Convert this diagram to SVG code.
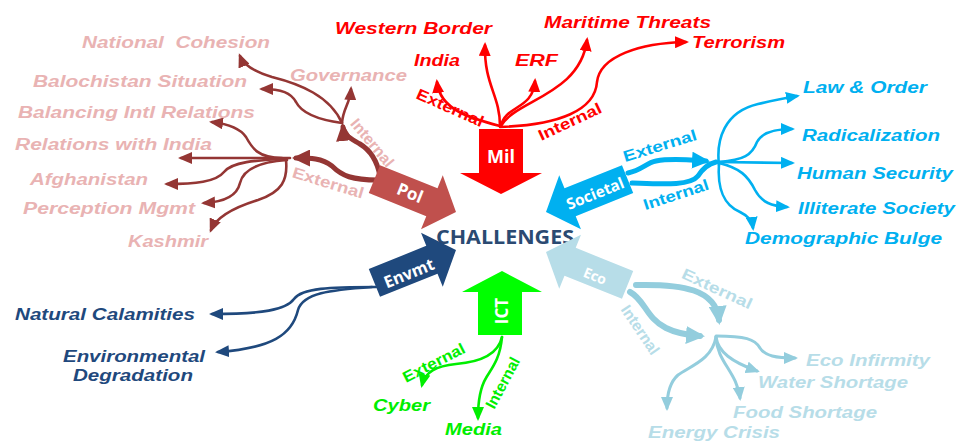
<svg xmlns="http://www.w3.org/2000/svg" width="958" height="441" viewBox="0 0 958 441">
<style>
.lbl{font-family:"Liberation Sans",Arial,sans-serif;font-weight:bold;font-style:italic;font-size:16px}
.sub{font-family:"Liberation Sans",Arial,sans-serif;font-weight:bold;font-size:15.5px;text-anchor:middle}
.in{font-family:"Open Sans","Liberation Sans",sans-serif;font-weight:bold;fill:#fff;text-anchor:middle}
.ln{fill:none;stroke-linecap:round}
.red{fill:#FF0000}.redS{stroke:#FF0000;stroke-width:2.6}
.pink{fill:#E9B3B3}.polS{stroke:#943634;stroke-width:2.6}.polT{stroke:#943634;stroke-width:5}
.sky{fill:#00B0F0}.skyS{stroke:#00B0F0;stroke-width:2.6}.skyT{stroke:#00B0F0;stroke-width:5}
.nav{fill:#1F497D}.navS{stroke:#1F497D;stroke-width:2.6}
.grn{fill:#00EE00}.grnS{stroke:#00EE00;stroke-width:2.6}
.eco{fill:#B7DDE8}.ecoS{stroke:#93CDDD;stroke-width:3}.ecoT{stroke:#93CDDD;stroke-width:6}
</style>
<defs>
<marker id="mRed" markerUnits="userSpaceOnUse" markerWidth="14" markerHeight="12" refX="11" refY="6" orient="auto"><path d="M0,0 L14,6 L0,12 z" fill="#FF0000"/></marker>
<marker id="mPol" markerUnits="userSpaceOnUse" markerWidth="14" markerHeight="12" refX="11" refY="6" orient="auto"><path d="M0,0 L14,6 L0,12 z" fill="#943634"/></marker>
<marker id="mPolB" markerUnits="userSpaceOnUse" markerWidth="18" markerHeight="17" refX="14" refY="8.5" orient="auto"><path d="M0,0 L18,8.5 L0,17 z" fill="#943634"/></marker>
<marker id="mSky" markerUnits="userSpaceOnUse" markerWidth="14" markerHeight="12" refX="11" refY="6" orient="auto"><path d="M0,0 L14,6 L0,12 z" fill="#00B0F0"/></marker>
<marker id="mSkyB" markerUnits="userSpaceOnUse" markerWidth="18" markerHeight="17" refX="14" refY="8.5" orient="auto"><path d="M0,0 L18,8.5 L0,17 z" fill="#00B0F0"/></marker>
<marker id="mNav" markerUnits="userSpaceOnUse" markerWidth="14" markerHeight="12" refX="11" refY="6" orient="auto"><path d="M0,0 L14,6 L0,12 z" fill="#1F497D"/></marker>
<marker id="mGrn" markerUnits="userSpaceOnUse" markerWidth="14" markerHeight="12" refX="11" refY="6" orient="auto"><path d="M0,0 L14,6 L0,12 z" fill="#00EE00"/></marker>
<marker id="mEco" markerUnits="userSpaceOnUse" markerWidth="14" markerHeight="12" refX="11" refY="6" orient="auto"><path d="M0,0 L14,6 L0,12 z" fill="#93CDDD"/></marker>
<marker id="mEcoB" markerUnits="userSpaceOnUse" markerWidth="19" markerHeight="18" refX="14" refY="9" orient="auto"><path d="M0,0 L19,9 L0,18 z" fill="#93CDDD"/></marker>
<polygon id="diag" points="-88,-15 -26,-15 -26,-29 0,0 -26,29 -26,15 -88,15"/>
</defs>
<rect width="958" height="441" fill="#fff"/>

<g id="connectors">
  <!-- Mil -->
  <path class="ln redS" marker-end="url(#mRed)" d="M500,126 C470,118 440,110 437,82"/>
  <path class="ln redS" marker-end="url(#mRed)" d="M500,126 C500,95 484,85 485,45"/>
  <path class="ln redS" marker-end="url(#mRed)" d="M501,126 C505,105 533,110 535,81"/>
  <path class="ln redS" marker-end="url(#mRed)" d="M501,126 C515,100 580,95 587,40"/>
  <path class="ln redS" marker-end="url(#mRed)" d="M500,127 C560,125 595,110 597,82 C600,56 640,43 686,42"/>
  <!-- Pol -->
  <path class="ln polT" marker-end="url(#mPolB)" d="M378,180 C352,180 342,176 332,166 C322,158 310,158 296,158"/>
  <path class="ln polT" marker-end="url(#mPolB)" d="M380,176 C377,160 370,150 360,144 C350,138 344,136 343,127"/>
  <path class="ln polS" marker-end="url(#mPol)" d="M342,123 C343,108 350,104 351,89"/>
  <path class="ln polS" marker-end="url(#mPol)" d="M342,123 C330,96 300,84 272,77 C255,72 244,66 240,56"/>
  <path class="ln polS" marker-end="url(#mPol)" d="M342,123 C320,120 302,114 296,102 C291,93 282,89 262,89"/>
  <path class="ln polS" marker-end="url(#mPol)" d="M290,158 L181,158"/>
  <path class="ln polS" marker-end="url(#mPol)" d="M282,158 C258,158 252,148 246,137 C240,128 228,124 212,122"/>
  <path class="ln polS" marker-end="url(#mPol)" d="M287,159 C255,160 232,162 224,172 C216,182 195,184 167,184"/>
  <path class="ln polS" marker-end="url(#mPol)" d="M287,160 C258,162 243,170 240,183 C237,196 225,202 204,203"/>
  <path class="ln polS" marker-end="url(#mPol)" d="M286,160 C288,180 282,192 258,200 C232,208 216,218 211,230"/>
  <!-- Societal -->
  <path class="ln skyT" marker-end="url(#mSkyB)" d="M628,173 C642,170 646,163 656,161 C672,158 690,160 706,161"/>
  <path class="ln skyT" d="M632,183 C662,184 690,186 698,176 C703,168 708,164 716,162"/>
  <path class="ln skyS" marker-end="url(#mSky)" d="M719,165 C716,140 724,112 758,104 C775,100 786,98 797,96"/>
  <path class="ln skyS" marker-end="url(#mSky)" d="M719,162 C744,160 752,155 757,142 C762,132 775,129 792,129"/>
  <path class="ln skyS" marker-end="url(#mSky)" d="M719,162 L792,163"/>
  <path class="ln skyS" marker-end="url(#mSky)" d="M719,163 C740,168 748,176 755,190 C762,203 772,206 787,207"/>
  <path class="ln skyS" marker-end="url(#mSky)" d="M719,163 C717,190 724,205 740,212 C748,216 752,220 753,228"/>
  <!-- Envmt -->
  <path class="ln navS" marker-end="url(#mNav)" d="M376,287 C330,287 302,288 294,299 C286,310 262,314 212,314"/>
  <path class="ln navS" marker-end="url(#mNav)" d="M372,287 C330,290 303,293 298,310 C292,335 272,348 218,352"/>
  <!-- ICT -->
  <path class="ln grnS" marker-end="url(#mGrn)" d="M502,337 C498,355 480,362 456,364 C436,366 425,372 422,385"/>
  <path class="ln grnS" marker-end="url(#mGrn)" d="M502,337 C500,360 491,369 486,378 C480,388 478,400 478,418"/>
  <!-- Eco -->
  <path class="ln ecoT" marker-end="url(#mEcoB)" d="M636,285 C682,284 716,289 719,320"/>
  <path class="ln ecoT" marker-end="url(#mEcoB)" d="M630,292 C645,300 646,318 666,328 C676,333 686,335 700,336"/>
  <path class="ln ecoS" marker-end="url(#mEco)" d="M716,336 C745,336 755,339 760,348 C765,356 776,358 795,358"/>
  <path class="ln ecoS" marker-end="url(#mEco)" d="M716,337 C718,352 732,362 757,371"/>
  <path class="ln ecoS" marker-end="url(#mEco)" d="M716,337 C717,362 737,372 740,398"/>
  <path class="ln ecoS" marker-end="url(#mEco)" d="M716,337 C712,360 690,366 678,375 C670,382 667,393 667,408"/>
</g>

<g id="challenges">
  <text x="505" y="244" text-anchor="middle" textLength="138" lengthAdjust="spacingAndGlyphs" style="font-family:'Open Sans','Liberation Sans',sans-serif;font-weight:bold;font-size:19px;fill:#2B4A72">CHALLENGES</text>
</g>

<g id="mil">
  <polygon points="479,129 523,129 523,173 542,173 501,194 460,173 479,173" fill="#FF0000"/>
  <text class="in" x="501" y="163" font-size="18">Mil</text>
  <text class="lbl red" x="335" y="34" textLength="157" lengthAdjust="spacingAndGlyphs">Western Border</text>
  <text class="lbl red" x="414" y="66" textLength="46" lengthAdjust="spacingAndGlyphs">India</text>
  <text class="lbl red" x="515" y="66" textLength="43" lengthAdjust="spacingAndGlyphs">ERF</text>
  <text class="lbl red" x="544" y="28" textLength="167" lengthAdjust="spacingAndGlyphs">Maritime Threats</text>
  <text class="lbl red" x="692" y="48" textLength="93" lengthAdjust="spacingAndGlyphs">Terrorism</text>
  <text class="sub red" transform="translate(450,108) rotate(24)" y="5" textLength="72" lengthAdjust="spacingAndGlyphs">External</text>
  <text class="sub red" transform="translate(570,122) rotate(-25)" y="5" textLength="68" lengthAdjust="spacingAndGlyphs">Internal</text>
</g>

<g id="pol">
  <use href="#diag" fill="#C0504D" transform="translate(456,212) rotate(22)"/>
  <text class="in" font-size="17" transform="translate(410,193) rotate(22)" y="6">Pol</text>
  <text class="lbl pink" x="82" y="48" textLength="188" lengthAdjust="spacingAndGlyphs" style="white-space:pre">National  Cohesion</text>
  <text class="lbl pink" x="290" y="81" textLength="117" lengthAdjust="spacingAndGlyphs">Governance</text>
  <text class="lbl pink" x="33" y="87" textLength="214" lengthAdjust="spacingAndGlyphs">Balochistan Situation</text>
  <text class="lbl pink" x="18" y="118" textLength="237" lengthAdjust="spacingAndGlyphs">Balancing Intl Relations</text>
  <text class="lbl pink" x="15" y="150" textLength="197" lengthAdjust="spacingAndGlyphs">Relations with India</text>
  <text class="lbl pink" x="30" y="185" textLength="118" lengthAdjust="spacingAndGlyphs">Afghanistan</text>
  <text class="lbl pink" x="23" y="214" textLength="172" lengthAdjust="spacingAndGlyphs">Perception Mgmt</text>
  <text class="lbl pink" x="128" y="247" textLength="80" lengthAdjust="spacingAndGlyphs">Kashmir</text>
  <text class="sub pink" transform="translate(372,143) rotate(50)" y="5" textLength="58" lengthAdjust="spacingAndGlyphs">Internal</text>
  <text class="sub pink" transform="translate(328,183) rotate(17)" y="5" textLength="74" lengthAdjust="spacingAndGlyphs">External</text>
</g>

<g id="societal">
  <use href="#diag" fill="#00B0F0" transform="translate(546,212) rotate(158)"/>
  <text class="in" font-size="15.5" transform="translate(595,193) rotate(-22)" y="6">Societal</text>
  <text class="lbl sky" x="803" y="93" textLength="124" lengthAdjust="spacingAndGlyphs">Law &amp; Order</text>
  <text class="lbl sky" x="802" y="141" textLength="138" lengthAdjust="spacingAndGlyphs">Radicalization</text>
  <text class="lbl sky" x="797" y="179" textLength="156" lengthAdjust="spacingAndGlyphs">Human Security</text>
  <text class="lbl sky" x="798" y="214" textLength="157" lengthAdjust="spacingAndGlyphs">Illiterate Society</text>
  <text class="lbl sky" x="745" y="244" textLength="197" lengthAdjust="spacingAndGlyphs">Demographic Bulge</text>
  <text class="sub sky" transform="translate(660,146) rotate(-17)" y="5" textLength="76" lengthAdjust="spacingAndGlyphs">External</text>
  <text class="sub sky" transform="translate(676,195) rotate(-18)" y="5" textLength="68" lengthAdjust="spacingAndGlyphs">Internal</text>
</g>

<g id="envmt">
  <use href="#diag" fill="#1F497D" transform="translate(456,250) rotate(-22)"/>
  <text class="in" font-size="16.5" transform="translate(409,273) rotate(-22)" y="6">Envmt</text>
  <text class="lbl nav" x="15" y="320" textLength="180" lengthAdjust="spacingAndGlyphs">Natural Calamities</text>
  <text class="lbl nav" x="63" y="362" textLength="142" lengthAdjust="spacingAndGlyphs">Environmental</text>
  <text class="lbl nav" x="73" y="381" textLength="120" lengthAdjust="spacingAndGlyphs">Degradation</text>
</g>

<g id="ict">
  <polygon points="478,335 478,292 462,292 502,271 542,292 522,292 522,335" fill="#00FF00"/>
  <text class="in" font-size="17" transform="translate(502,311) rotate(-90)" y="6">ICT</text>
  <text class="lbl grn" x="373" y="411" textLength="57" lengthAdjust="spacingAndGlyphs">Cyber</text>
  <text class="lbl grn" x="445" y="435" textLength="57" lengthAdjust="spacingAndGlyphs">Media</text>
  <text class="sub grn" transform="translate(434,363) rotate(-27)" y="5" textLength="68" lengthAdjust="spacingAndGlyphs">External</text>
  <text class="sub grn" transform="translate(503,383) rotate(-62)" y="5" textLength="56" lengthAdjust="spacingAndGlyphs">Internal</text>
</g>

<g id="eco">
  <use href="#diag" fill="#B7DDE8" transform="translate(546,252) rotate(202)"/>
  <text class="in" font-size="14" transform="translate(595,276) rotate(22)" y="5">Eco</text>
  <text class="lbl eco" x="806" y="366" textLength="124" lengthAdjust="spacingAndGlyphs">Eco Infirmity</text>
  <text class="lbl eco" x="758" y="388" textLength="150" lengthAdjust="spacingAndGlyphs">Water Shortage</text>
  <text class="lbl eco" x="733" y="418" textLength="144" lengthAdjust="spacingAndGlyphs">Food Shortage</text>
  <text class="lbl eco" x="648" y="438" textLength="132" lengthAdjust="spacingAndGlyphs">Energy Crisis</text>
  <text class="sub eco" transform="translate(717,289) rotate(25)" y="5" textLength="76" lengthAdjust="spacingAndGlyphs">External</text>
  <text class="sub eco" transform="translate(640,330) rotate(56)" y="5" textLength="56" lengthAdjust="spacingAndGlyphs">Internal</text>
</g>
</svg>
